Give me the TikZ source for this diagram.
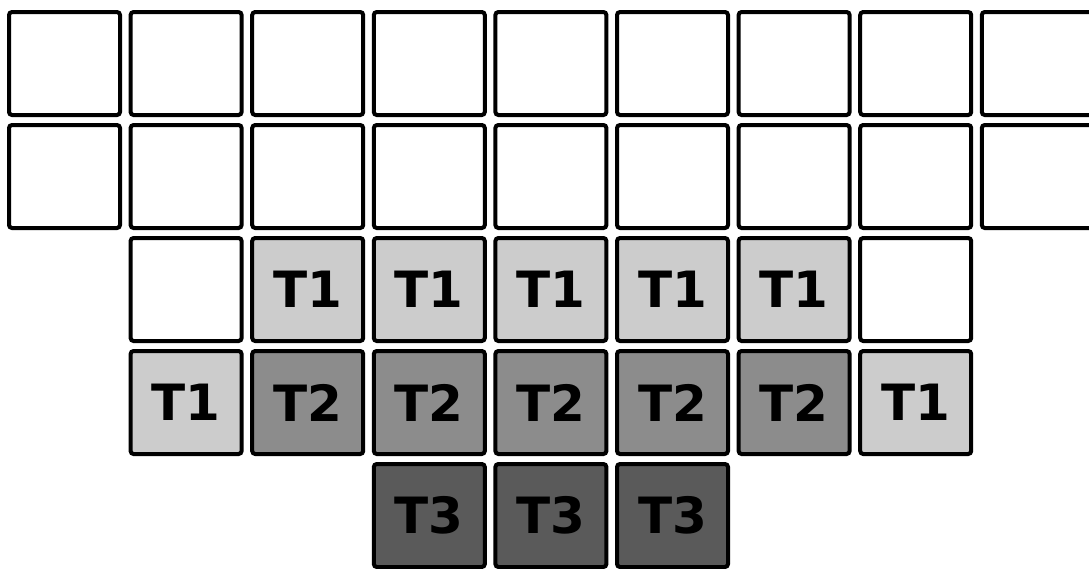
\documentclass[tikz,border=0pt]{standalone}
\usepackage{fontspec}
\setmainfont{DejaVu Sans}
\definecolor{tone1}{HTML}{CCCCCC}
\definecolor{tone2}{HTML}{8C8C8C}
\definecolor{tone3}{HTML}{5A5A5A}
\begin{document}
\begin{tikzpicture}[x=1pt,y=1pt,
  cell/.style={draw=black, line width=4pt, rounded corners=3pt, minimum width=111pt, minimum height=103pt, inner sep=0pt, fill=white, font=\fontsize{50}{50}\selectfont\bfseries, text=black},
  tA/.style={cell, fill=tone1},
  tB/.style={cell, fill=tone2},
  tC/.style={cell, fill=tone3}]
\useasboundingbox (0,0) rectangle (1089,-568);
\begin{scope}
\clip (0,0) rectangle (1089,-568);
\foreach \j in {0,1} {
  \foreach \i in {0,...,8} {
    \node[cell] (r\j c\i) at ({64.5+121.6*\i},{-63.5-113*\j}) {};
  }
}
\node[cell] (r2c1) at ({64.5+121.6*1},{-63.5-113*2}) {};
\foreach \i in {2,...,6} {
  \node[tA] (r2c\i) at ({64.5+121.6*\i},{-63.5-113*2}) {T1};
}
\node[cell] (r2c7) at ({64.5+121.6*7},{-63.5-113*2}) {};
\node[tA] (r3c1) at ({64.5+121.6*1},{-63.5-113*3}) {T1};
\foreach \i in {2,...,6} {
  \node[tB] (r3c\i) at ({64.5+121.6*\i},{-63.5-113*3}) {T2};
}
\node[tA] (r3c7) at ({64.5+121.6*7},{-63.5-113*3}) {T1};
\foreach \i in {3,4,5} {
  \node[tC] (r4c\i) at ({64.5+121.6*\i},{-63.5-113*4}) {T3};
}
\end{scope}
\end{tikzpicture}
\end{document}
